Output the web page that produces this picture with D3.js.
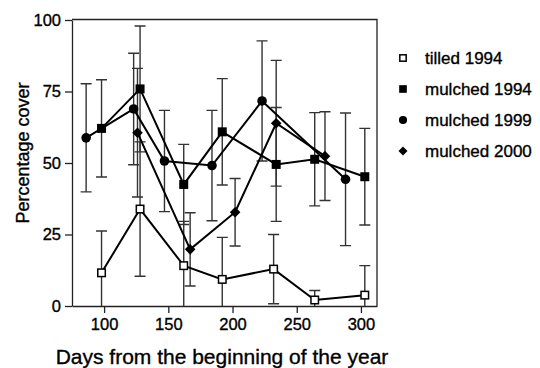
<!DOCTYPE html>
<meta charset="utf-8">
<head>
  <script src="https://d3js.org/d3.v7.min.js"></script>
  <style>
    body { margin: 0; background: #fff; }
    text { font-family: "Liberation Sans", Arial, sans-serif; fill: #000; stroke: #000; stroke-width: 0.35px; }
  </style>
</head>
<body>
  <div id="chart"></div>
</body>
<script>

// values (day of year, mean cover %, error bar half length)
var tilledDays  = [98, 128, 162, 192, 232, 264, 303];
var tilledCover = [11.6, 33.9, 14.1, 9.3, 12.9, 2.1, 3.8];
var tilledErr   = [14.6, 23.5, 15.5, 14.7, 12.1, 3.3, 10.3];

var mulch94Days  = [98, 128, 162, 192, 234, 264, 303];
var mulch94Cover = [62.1, 75.9, 42.5, 60.9, 49.5, 51.3, 45.2];
var mulch94Err   = [17, 22, 14, 18.6, 19.9, 16.3, 16.9];

var mulch99Days  = [86, 123, 147, 184, 223, 288];
var mulch99Cover = [58.8, 68.9, 50.7, 49.1, 71.7, 44.3];
var mulch99Err   = [18.9, 19.5, 17.7, 19.3, 21, 23.2];

var mulch00Days  = [126, 167, 202, 234, 272];
var mulch00Cover = [60.6, 19.8, 32.8, 63.9, 52.4];
var mulch00Err   = [22.5, 12.8, 11.8, 22, 15.5];

var seriesNames = ["tilled 1994", "mulched 1994", "mulched 1999", "mulched 2000"];
var xTicks = [100, 150, 200, 250, 300];
var yTicks = [0, 25, 50, 75, 100];

function zipSeries(days, cover, err) {
  return days.map(function(d, i) { return {day: d, value: cover[i], err: err[i]}; });
}

var series = [
  {name: seriesNames[0], shape: "osquare", data: zipSeries(tilledDays, tilledCover, tilledErr)},
  {name: seriesNames[1], shape: "square",  data: zipSeries(mulch94Days, mulch94Cover, mulch94Err)},
  {name: seriesNames[2], shape: "circle",  data: zipSeries(mulch99Days, mulch99Cover, mulch99Err)},
  {name: seriesNames[3], shape: "diamond", data: zipSeries(mulch00Days, mulch00Cover, mulch00Err)}
];

// plot frame
var margin = {top: 20, left: 72},
    width = 305,
    height = 286;

var svg = d3.select("#chart")
  .append("svg")
    .attr("width", 540)
    .attr("height", 368);

var g = svg.append("g")
    .attr("transform", "translate(" + margin.left + "," + margin.top + ")");

var x = d3.scaleLinear()
  .domain([75, 312.5])
  .range([0, width]);

var y = d3.scaleLinear()
  .domain([0, 100])
  .range([height, 0]);

g.append("clipPath")
    .attr("id", "clip")
  .append("rect")
    .attr("x", 0).attr("y", -1)
    .attr("width", width).attr("height", height + 1);

// axes
var xAxis = g.append("g")
  .attr("transform", "translate(0," + height + ")")
  .call(d3.axisBottom(x).tickValues(xTicks).tickSize(7).tickPadding(5).tickSizeOuter(0));

var yAxis = g.append("g")
  .call(d3.axisLeft(y).tickValues(yTicks).tickSize(7).tickPadding(4).tickSizeOuter(0));

[xAxis, yAxis].forEach(function(a) {
  a.selectAll("path, line").attr("stroke", "#222").attr("stroke-width", 1.3);
  a.selectAll("text").style("font-size", "16.5px").attr("fill", "#000");
});

// top and right edge of the box
g.append("path")
  .attr("d", "M0,-0.5H" + width + "V" + height)
  .attr("fill", "none")
  .attr("stroke", "#222")
  .attr("stroke-width", 1.3);

// error bars
var plot = g.append("g").attr("clip-path", "url(#clip)");
var cap = 5.5;

series.forEach(function(s) {
  var eb = plot.append("g").attr("stroke", "#333").attr("stroke-width", 1.4).attr("fill", "none");
  s.data.forEach(function(d) {
    var cx = x(d.day), yt = y(d.value + d.err), yb = y(d.value - d.err);
    eb.append("path")
      .attr("d", "M" + cx + "," + yt + "V" + yb +
                 "M" + (cx - cap) + "," + yt + "H" + (cx + cap) +
                 "M" + (cx - cap) + "," + yb + "H" + (cx + cap));
  });
});

// lines
var line = d3.line()
  .x(function(d) { return x(d.day); })
  .y(function(d) { return y(d.value); });

series.forEach(function(s) {
  plot.append("path")
    .datum(s.data)
    .attr("fill", "none")
    .attr("stroke", "#000")
    .attr("stroke-width", 2)
    .attr("d", line);
});

// markers
function drawMarker(sel, shape, cx, cy, k) {
  if (shape == "osquare") {
    var a = 7.5 * k;
    sel.append("rect").attr("x", cx - a / 2).attr("y", cy - a / 2).attr("width", a).attr("height", a)
      .attr("fill", "#fff").attr("stroke", "#000").attr("stroke-width", 1.5);
  } else if (shape == "square") {
    var b = 9 * k;
    sel.append("rect").attr("x", cx - b / 2).attr("y", cy - b / 2).attr("width", b).attr("height", b)
      .attr("fill", "#000");
  } else if (shape == "circle") {
    sel.append("circle").attr("cx", cx).attr("cy", cy).attr("r", 4.8 * k).attr("fill", "#000");
  } else {
    var r = 5.3 * k;
    sel.append("path")
      .attr("d", "M" + cx + "," + (cy - r) + "L" + (cx + r) + "," + cy + "L" + cx + "," + (cy + r) + "L" + (cx - r) + "," + cy + "Z")
      .attr("fill", "#000");
  }
}

series.forEach(function(s) {
  var m = g.append("g");
  s.data.forEach(function(d) {
    drawMarker(m, s.shape, x(d.day), y(d.value), 1);
  });
});

// axis titles
svg.append("text")
  .attr("x", 222)
  .attr("y", 364)
  .attr("text-anchor", "middle")
  .style("font-size", "21px")
  .text("Days from the beginning of the year");

svg.append("text")
  .attr("transform", "translate(29,153) rotate(-90)")
  .attr("text-anchor", "middle")
  .style("font-size", "18px")
  .text("Percentage cover");

// legend
var legend = svg.append("g");
series.forEach(function(s, i) {
  var ly = 58 + i * 31;
  drawMarker(legend, s.shape, 403, ly, 0.85);
  legend.append("text")
    .attr("x", 425)
    .attr("y", ly + 6)
    .style("font-size", "17px")
    .text(s.name);
});

</script>
